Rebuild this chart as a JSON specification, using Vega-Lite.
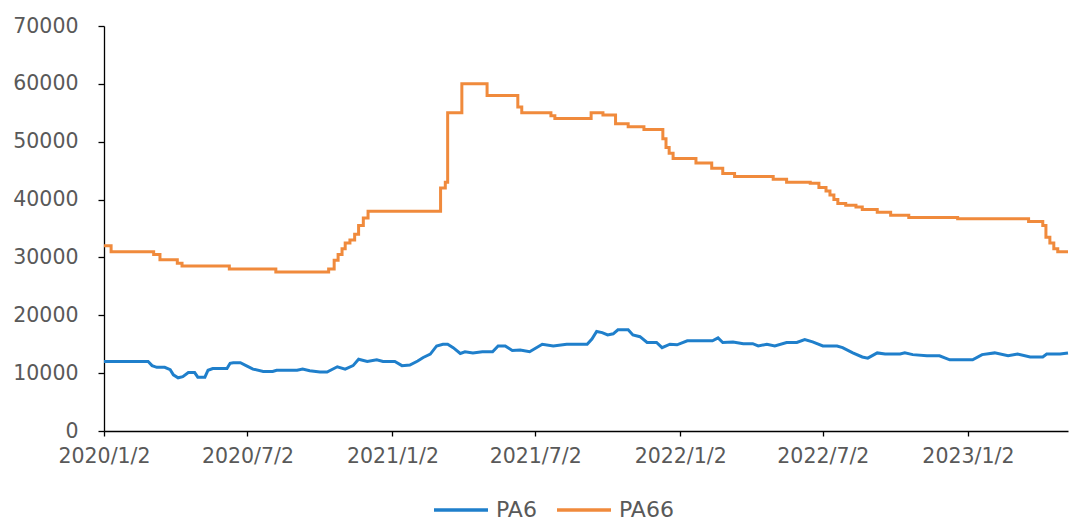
{
  "$schema": "https://vega.github.io/schema/vega-lite/v6.json",
  "autosize": {"type": "none"},
  "padding": {"left": 104, "top": 26, "right": 2, "bottom": 90},
  "width": 964,
  "height": 405,
  "background": "white",
  "config": {
    "view": {"stroke": null},
    "font": "DejaVu Sans",
    "axis": {"labelFont": "DejaVu Sans", "labelColor": "#595959", "labelFontSize": 20.5, "domainColor": "#000000", "tickColor": "#000000", "domainWidth": 1.3, "tickWidth": 1.3, "tickSize": 6, "grid": false, "title": null}
  },
  "datasets": {
    "pa66": [
      {"date": "2020-01-02", "series": "PA66", "value": 32000},
      {"date": "2020-01-11", "series": "PA66", "value": 31000},
      {"date": "2020-03-05", "series": "PA66", "value": 30500},
      {"date": "2020-03-13", "series": "PA66", "value": 29600},
      {"date": "2020-04-04", "series": "PA66", "value": 29000},
      {"date": "2020-04-10", "series": "PA66", "value": 28500},
      {"date": "2020-06-09", "series": "PA66", "value": 28000},
      {"date": "2020-08-07", "series": "PA66", "value": 27500},
      {"date": "2020-10-13", "series": "PA66", "value": 28000},
      {"date": "2020-10-20", "series": "PA66", "value": 29500},
      {"date": "2020-10-25", "series": "PA66", "value": 30500},
      {"date": "2020-10-30", "series": "PA66", "value": 31500},
      {"date": "2020-11-03", "series": "PA66", "value": 32500},
      {"date": "2020-11-09", "series": "PA66", "value": 33000},
      {"date": "2020-11-15", "series": "PA66", "value": 34000},
      {"date": "2020-11-20", "series": "PA66", "value": 35500},
      {"date": "2020-11-26", "series": "PA66", "value": 36800},
      {"date": "2020-12-02", "series": "PA66", "value": 38000},
      {"date": "2021-03-04", "series": "PA66", "value": 42000},
      {"date": "2021-03-10", "series": "PA66", "value": 43000},
      {"date": "2021-03-13", "series": "PA66", "value": 55000},
      {"date": "2021-03-31", "series": "PA66", "value": 60000},
      {"date": "2021-05-02", "series": "PA66", "value": 58000},
      {"date": "2021-06-10", "series": "PA66", "value": 56000},
      {"date": "2021-06-15", "series": "PA66", "value": 55000},
      {"date": "2021-07-22", "series": "PA66", "value": 54500},
      {"date": "2021-07-27", "series": "PA66", "value": 54000},
      {"date": "2021-09-11", "series": "PA66", "value": 55000},
      {"date": "2021-09-26", "series": "PA66", "value": 54600},
      {"date": "2021-10-12", "series": "PA66", "value": 53100},
      {"date": "2021-10-28", "series": "PA66", "value": 52600},
      {"date": "2021-11-17", "series": "PA66", "value": 52100},
      {"date": "2021-12-11", "series": "PA66", "value": 50500},
      {"date": "2021-12-15", "series": "PA66", "value": 49000},
      {"date": "2021-12-19", "series": "PA66", "value": 48000},
      {"date": "2021-12-24", "series": "PA66", "value": 47100},
      {"date": "2022-01-22", "series": "PA66", "value": 46300},
      {"date": "2022-02-11", "series": "PA66", "value": 45400},
      {"date": "2022-02-25", "series": "PA66", "value": 44500},
      {"date": "2022-03-12", "series": "PA66", "value": 44000},
      {"date": "2022-04-30", "series": "PA66", "value": 43500},
      {"date": "2022-05-17", "series": "PA66", "value": 43000},
      {"date": "2022-06-16", "series": "PA66", "value": 42800},
      {"date": "2022-06-27", "series": "PA66", "value": 42100},
      {"date": "2022-07-06", "series": "PA66", "value": 41500},
      {"date": "2022-07-11", "series": "PA66", "value": 40800},
      {"date": "2022-07-16", "series": "PA66", "value": 40000},
      {"date": "2022-07-21", "series": "PA66", "value": 39300},
      {"date": "2022-07-31", "series": "PA66", "value": 39000},
      {"date": "2022-08-13", "series": "PA66", "value": 38700},
      {"date": "2022-08-21", "series": "PA66", "value": 38300},
      {"date": "2022-09-09", "series": "PA66", "value": 37800},
      {"date": "2022-09-26", "series": "PA66", "value": 37300},
      {"date": "2022-10-19", "series": "PA66", "value": 36900},
      {"date": "2022-12-20", "series": "PA66", "value": 36700},
      {"date": "2023-03-20", "series": "PA66", "value": 36200},
      {"date": "2023-04-07", "series": "PA66", "value": 35500},
      {"date": "2023-04-11", "series": "PA66", "value": 33500},
      {"date": "2023-04-16", "series": "PA66", "value": 32500},
      {"date": "2023-04-21", "series": "PA66", "value": 31500},
      {"date": "2023-04-26", "series": "PA66", "value": 31000},
      {"date": "2023-05-09", "series": "PA66", "value": 31000}
    ],
    "pa6": [
      {"date": "2020-01-02", "series": "PA6", "value": 12000},
      {"date": "2020-02-27", "series": "PA6", "value": 12000},
      {"date": "2020-03-03", "series": "PA6", "value": 11300},
      {"date": "2020-03-09", "series": "PA6", "value": 11000},
      {"date": "2020-03-19", "series": "PA6", "value": 11000},
      {"date": "2020-03-26", "series": "PA6", "value": 10600},
      {"date": "2020-03-30", "series": "PA6", "value": 9700},
      {"date": "2020-04-05", "series": "PA6", "value": 9200},
      {"date": "2020-04-11", "series": "PA6", "value": 9400},
      {"date": "2020-04-18", "series": "PA6", "value": 10100},
      {"date": "2020-04-26", "series": "PA6", "value": 10100},
      {"date": "2020-04-30", "series": "PA6", "value": 9300},
      {"date": "2020-05-09", "series": "PA6", "value": 9300},
      {"date": "2020-05-13", "series": "PA6", "value": 10500},
      {"date": "2020-05-19", "series": "PA6", "value": 10800},
      {"date": "2020-06-06", "series": "PA6", "value": 10800},
      {"date": "2020-06-10", "series": "PA6", "value": 11700},
      {"date": "2020-06-14", "series": "PA6", "value": 11800},
      {"date": "2020-06-23", "series": "PA6", "value": 11800},
      {"date": "2020-06-29", "series": "PA6", "value": 11400},
      {"date": "2020-07-09", "series": "PA6", "value": 10700},
      {"date": "2020-07-22", "series": "PA6", "value": 10300},
      {"date": "2020-08-03", "series": "PA6", "value": 10300},
      {"date": "2020-08-08", "series": "PA6", "value": 10500},
      {"date": "2020-09-03", "series": "PA6", "value": 10500},
      {"date": "2020-09-10", "series": "PA6", "value": 10700},
      {"date": "2020-09-19", "series": "PA6", "value": 10400},
      {"date": "2020-10-02", "series": "PA6", "value": 10200},
      {"date": "2020-10-11", "series": "PA6", "value": 10200},
      {"date": "2020-10-24", "series": "PA6", "value": 11100},
      {"date": "2020-11-03", "series": "PA6", "value": 10700},
      {"date": "2020-11-13", "series": "PA6", "value": 11300},
      {"date": "2020-11-20", "series": "PA6", "value": 12400},
      {"date": "2020-12-01", "series": "PA6", "value": 12000},
      {"date": "2020-12-13", "series": "PA6", "value": 12300},
      {"date": "2020-12-21", "series": "PA6", "value": 12000},
      {"date": "2021-01-05", "series": "PA6", "value": 12000},
      {"date": "2021-01-14", "series": "PA6", "value": 11300},
      {"date": "2021-01-24", "series": "PA6", "value": 11400},
      {"date": "2021-02-03", "series": "PA6", "value": 12100},
      {"date": "2021-02-10", "series": "PA6", "value": 12700},
      {"date": "2021-02-19", "series": "PA6", "value": 13300},
      {"date": "2021-02-27", "series": "PA6", "value": 14700},
      {"date": "2021-03-07", "series": "PA6", "value": 15000},
      {"date": "2021-03-13", "series": "PA6", "value": 15000},
      {"date": "2021-03-20", "series": "PA6", "value": 14400},
      {"date": "2021-03-29", "series": "PA6", "value": 13400},
      {"date": "2021-04-04", "series": "PA6", "value": 13700},
      {"date": "2021-04-14", "series": "PA6", "value": 13500},
      {"date": "2021-04-26", "series": "PA6", "value": 13700},
      {"date": "2021-05-09", "series": "PA6", "value": 13700},
      {"date": "2021-05-16", "series": "PA6", "value": 14700},
      {"date": "2021-05-25", "series": "PA6", "value": 14700},
      {"date": "2021-06-03", "series": "PA6", "value": 13900},
      {"date": "2021-06-13", "series": "PA6", "value": 14000},
      {"date": "2021-06-25", "series": "PA6", "value": 13700},
      {"date": "2021-07-11", "series": "PA6", "value": 15000},
      {"date": "2021-07-25", "series": "PA6", "value": 14700},
      {"date": "2021-08-11", "series": "PA6", "value": 15000},
      {"date": "2021-09-06", "series": "PA6", "value": 15000},
      {"date": "2021-09-12", "series": "PA6", "value": 15900},
      {"date": "2021-09-18", "series": "PA6", "value": 17200},
      {"date": "2021-09-25", "series": "PA6", "value": 17000},
      {"date": "2021-10-02", "series": "PA6", "value": 16600},
      {"date": "2021-10-09", "series": "PA6", "value": 16800},
      {"date": "2021-10-15", "series": "PA6", "value": 17500},
      {"date": "2021-10-28", "series": "PA6", "value": 17500},
      {"date": "2021-11-03", "series": "PA6", "value": 16600},
      {"date": "2021-11-12", "series": "PA6", "value": 16300},
      {"date": "2021-11-21", "series": "PA6", "value": 15300},
      {"date": "2021-12-03", "series": "PA6", "value": 15300},
      {"date": "2021-12-10", "series": "PA6", "value": 14400},
      {"date": "2021-12-20", "series": "PA6", "value": 15000},
      {"date": "2021-12-29", "series": "PA6", "value": 14900},
      {"date": "2022-01-11", "series": "PA6", "value": 15600},
      {"date": "2022-02-12", "series": "PA6", "value": 15600},
      {"date": "2022-02-19", "series": "PA6", "value": 16100},
      {"date": "2022-02-25", "series": "PA6", "value": 15300},
      {"date": "2022-03-10", "series": "PA6", "value": 15400},
      {"date": "2022-03-23", "series": "PA6", "value": 15100},
      {"date": "2022-04-04", "series": "PA6", "value": 15100},
      {"date": "2022-04-11", "series": "PA6", "value": 14700},
      {"date": "2022-04-22", "series": "PA6", "value": 15000},
      {"date": "2022-05-02", "series": "PA6", "value": 14700},
      {"date": "2022-05-17", "series": "PA6", "value": 15300},
      {"date": "2022-05-30", "series": "PA6", "value": 15300},
      {"date": "2022-06-09", "series": "PA6", "value": 15800},
      {"date": "2022-06-19", "series": "PA6", "value": 15400},
      {"date": "2022-07-02", "series": "PA6", "value": 14700},
      {"date": "2022-07-20", "series": "PA6", "value": 14700},
      {"date": "2022-07-27", "series": "PA6", "value": 14400},
      {"date": "2022-08-09", "series": "PA6", "value": 13500},
      {"date": "2022-08-21", "series": "PA6", "value": 12800},
      {"date": "2022-08-28", "series": "PA6", "value": 12600},
      {"date": "2022-09-09", "series": "PA6", "value": 13500},
      {"date": "2022-09-19", "series": "PA6", "value": 13300},
      {"date": "2022-10-08", "series": "PA6", "value": 13300},
      {"date": "2022-10-14", "series": "PA6", "value": 13500},
      {"date": "2022-10-24", "series": "PA6", "value": 13200},
      {"date": "2022-11-11", "series": "PA6", "value": 13000},
      {"date": "2022-11-27", "series": "PA6", "value": 13000},
      {"date": "2022-12-10", "series": "PA6", "value": 12300},
      {"date": "2023-01-08", "series": "PA6", "value": 12300},
      {"date": "2023-01-20", "series": "PA6", "value": 13200},
      {"date": "2023-02-05", "series": "PA6", "value": 13500},
      {"date": "2023-02-22", "series": "PA6", "value": 13000},
      {"date": "2023-03-06", "series": "PA6", "value": 13300},
      {"date": "2023-03-22", "series": "PA6", "value": 12800},
      {"date": "2023-04-07", "series": "PA6", "value": 12800},
      {"date": "2023-04-12", "series": "PA6", "value": 13300},
      {"date": "2023-04-29", "series": "PA6", "value": 13300},
      {"date": "2023-05-09", "series": "PA6", "value": 13500}
    ]
  },
  "encoding": {
    "x": {
      "field": "date", "type": "temporal",
      "scale": {"domain": [{"year": 2020, "month": 1, "date": 2}, {"year": 2023, "month": 5, "date": 9}]},
      "axis": {
        "values": [
          {"year": 2020, "month": 1, "date": 2},
          {"year": 2020, "month": 7, "date": 2},
          {"year": 2021, "month": 1, "date": 2},
          {"year": 2021, "month": 7, "date": 2},
          {"year": 2022, "month": 1, "date": 2},
          {"year": 2022, "month": 7, "date": 2},
          {"year": 2023, "month": 1, "date": 2}
        ],
        "format": "%Y/%-m/%-d",
        "tickSize": 5,
        "labelPadding": 10,
        "labelFontSize": 20.5,
        "labelFlush": false,
        "labelOverlap": false
      }
    },
    "y": {
      "field": "value", "type": "quantitative",
      "scale": {"domain": [0, 70000], "nice": false},
      "axis": {"values": [0, 10000, 20000, 30000, 40000, 50000, 60000, 70000], "format": "d", "labelPadding": 20, "labelFontSize": 20.5, "labelFlush": false}
    },
    "color": {
      "field": "series", "type": "nominal",
      "scale": {"domain": ["PA6", "PA66"], "range": ["#1F7FCB", "#F08A3C"]},
      "legend": {
        "title": null, "orient": "none", "direction": "horizontal",
        "legendX": 328, "legendY": 455, "padding": 0,
        "symbolType": "stroke", "symbolSize": 2916, "symbolStrokeWidth": 3.5,
        "labelFontSize": 22, "labelColor": "#595959", "labelFont": "DejaVu Sans",
        "columnPadding": 13, "labelOffset": 6
      }
    }
  },
  "layer": [
    {"data": {"name": "pa6"}, "mark": {"type": "line", "strokeWidth": 3, "interpolate": "linear"}},
    {"data": {"name": "pa66"}, "mark": {"type": "line", "strokeWidth": 3, "interpolate": "step-after"}}
  ]
}
